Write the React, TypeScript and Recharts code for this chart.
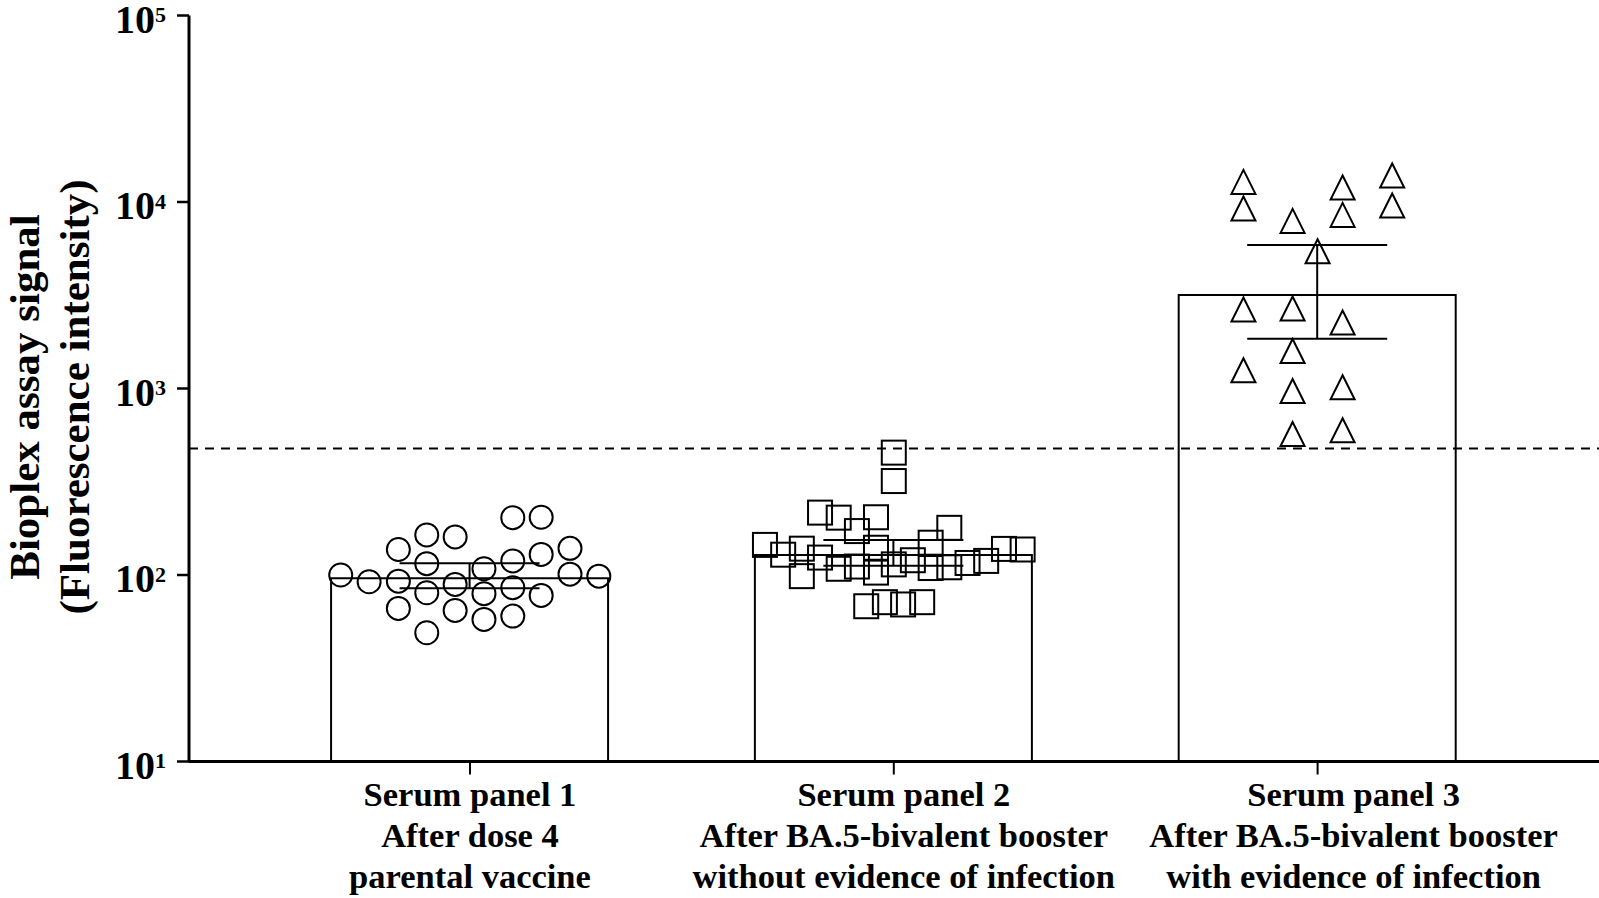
import React from 'react';
import { ComposedChart, Bar, Scatter, XAxis, YAxis, ErrorBar, ReferenceLine } from 'recharts';

const FONT = '"Liberation Serif", "Times New Roman", Times, serif';

// categories
const categoryX = [1, 2, 3];
const labelLine1 = ['Serum panel 1', 'Serum panel 2', 'Serum panel 3'];
const labelLine2 = ['After dose 4', 'After BA.5-bivalent booster', 'After BA.5-bivalent booster'];
const labelLine3 = ['parental vaccine', 'without evidence of infection', 'with evidence of infection'];

// bar (central value) and error bar ends
const barMeans = [96, 128, 3172];
const barLower = [84.8, 112.2, 1849];
const barUpper = [115.5, 154, 5881];

// y axis ticks
const yTicks = [10, 100, 1000, 10000, 100000];
const cutoff = 477;

// panel 1 (circles)
const panel1X = [0.695, 0.762, 0.831, 0.831, 0.831, 0.898, 0.898, 0.898, 0.898, 0.965, 0.965, 0.965, 1.033, 1.033, 1.033, 1.101, 1.101, 1.101, 1.101, 1.168, 1.168, 1.168, 1.236, 1.236, 1.304];
const panel1Y = [100, 92, 137, 92.7, 66.2, 164, 115, 80.3, 49, 160, 89, 64.6, 108, 79.4, 57.8, 203, 119, 85.5, 60.2, 204, 129, 77.7, 139, 101, 98.6];

// panel 2 (squares)
const panel2X = [1.696, 1.739, 1.783, 1.783, 1.826, 1.826, 1.870, 1.870, 1.913, 1.913, 1.958, 1.958, 1.958, 2.0, 2.0, 2.0, 2.045, 2.087, 2.087, 2.131, 2.131, 2.174, 2.218, 2.260, 2.304, 1.935, 1.979, 2.022, 2.067];
const panel2Y = [145, 128.5, 138.4, 98.6, 216, 124, 203, 108, 172, 111, 204, 140, 103, 114, 453, 319, 120, 149, 109, 179, 110, 116, 119, 138, 137, 68, 71.5, 69.5, 71.5];

// panel 3 (triangles)
const panel3X = [2.825, 2.825, 2.941, 3.059, 3.059, 3.176, 3.176, 3.0, 2.825, 2.941, 3.059, 2.941, 2.825, 2.941, 3.059, 2.941, 3.059];
const panel3Y = [12820, 9229, 7918, 11960, 8528, 13870, 9576, 5447, 2651, 2684, 2257, 1590, 1252, 970, 1015, 570, 597];

const barData = categoryX.map((x, i) => ({
  x,
  mean: barMeans[i],
  err: [barMeans[i] - barLower[i], barUpper[i] - barMeans[i]],
}));
const pts1 = panel1X.map((x, i) => ({ x, y: panel1Y[i] }));
const pts2 = panel2X.map((x, i) => ({ x, y: panel2Y[i] }));
const pts3 = panel3X.map((x, i) => ({ x, y: panel3Y[i] }));

const X_DOMAIN: [number, number] = [0.337, 3.664];
// horizontal nudge of each category's label block (px), as in the original figure
const LABEL_SHIFT = [0, 10, 36];

const CircleShape = (p: any) => (
  <circle cx={p.cx} cy={p.cy} r={11.5} fill="none" stroke="#000" strokeWidth={2} />
);
const SquareShape = (p: any) => (
  <rect x={p.cx - 12} y={p.cy - 12} width={24} height={24} fill="none" stroke="#000" strokeWidth={2} />
);
const TriangleShape = (p: any) => (
  <path
    d={`M${p.cx},${p.cy - 12} L${p.cx + 12},${p.cy + 12} L${p.cx - 12},${p.cy + 12} Z`}
    fill="none"
    stroke="#000"
    strokeWidth={2}
    strokeLinejoin="miter"
  />
);

const YTick = (props: any) => {
  const { x, y, payload } = props;
  const exp = Math.round(Math.log10(payload.value));
  return (
    <text x={x - 11} y={y + 17} textAnchor="end" fontFamily={FONT} fontWeight="bold" fill="#000">
      <tspan fontSize={40}>10</tspan>
      <tspan fontSize={22} dy={-10.5}>{String(exp)}</tspan>
    </text>
  );
};

const XTick = (props: any) => {
  const { x, y, payload } = props;
  const idx = categoryX.indexOf(payload.value);
  if (idx < 0) return null;
  const lines = [labelLine1[idx], labelLine2[idx], labelLine3[idx]];
  const offs = [31.5, 72.8, 113.2];
  return (
    <g>
      {lines.map((t, i) => (
        <text key={i} x={x + LABEL_SHIFT[idx]} y={y + offs[i]} textAnchor="middle" fontFamily={FONT} fontWeight="bold" fontSize={34.5} fill="#000">
          {t}
        </text>
      ))}
    </g>
  );
};

const YTitle = () => (
  <g>
    <text transform="rotate(-90)" x={-397} y={39} textAnchor="middle" fontFamily={FONT} fontWeight="bold" fontSize={43} fill="#000">
      Bioplex assay signal
    </text>
    <text transform="rotate(-90)" x={-397} y={89} textAnchor="middle" fontFamily={FONT} fontWeight="bold" fontSize={43} fill="#000">
      (Fluorescence intensity)
    </text>
  </g>
);

export default function App() {
  return (
    <div style={{ position: 'absolute', left: 0, top: 0, width: 1599, height: 898, background: '#fff' }}>
      <ComposedChart width={1599} height={898} data={barData} margin={{ top: 15.5, right: 0, bottom: 0, left: 0 }}>
        <XAxis
          xAxisId={0}
          dataKey="x"
          type="number"
          domain={X_DOMAIN}
          allowDataOverflow
          ticks={categoryX}
          height={136.5}
          tickSize={13}
          tickMargin={0}
          axisLine={{ stroke: '#000', strokeWidth: 3 }}
          tickLine={{ stroke: '#000', strokeWidth: 2 }}
          tick={<XTick />}
          interval={0}
        />
        <XAxis xAxisId="pts" dataKey="x" type="number" domain={X_DOMAIN} allowDataOverflow hide />
        <YAxis
          type="number"
          scale="log"
          domain={[10, 100000]}
          allowDataOverflow
          ticks={yTicks}
          interval={0}
          width={189}
          tickSize={12}
          tickMargin={0}
          axisLine={{ stroke: '#000', strokeWidth: 3 }}
          tickLine={{ stroke: '#000', strokeWidth: 2.5 }}
          tick={<YTick />}
          label={<YTitle />}
        />
        <Bar dataKey="mean" xAxisId={0} barSize={277} fill="none" stroke="#000" strokeWidth={2} isAnimationActive={false}>
          <ErrorBar dataKey="err" width={70} stroke="#000" strokeWidth={2} isAnimationActive={false} />
        </Bar>
        <ReferenceLine y={cutoff} xAxisId={0} stroke="#000" strokeWidth={2} strokeDasharray="9 7" />
        <Scatter data={pts1} dataKey="y" xAxisId="pts" shape={CircleShape} isAnimationActive={false} />
        <Scatter data={pts2} dataKey="y" xAxisId="pts" shape={SquareShape} isAnimationActive={false} />
        <Scatter data={pts3} dataKey="y" xAxisId="pts" shape={TriangleShape} isAnimationActive={false} />
      </ComposedChart>
    </div>
  );
}
